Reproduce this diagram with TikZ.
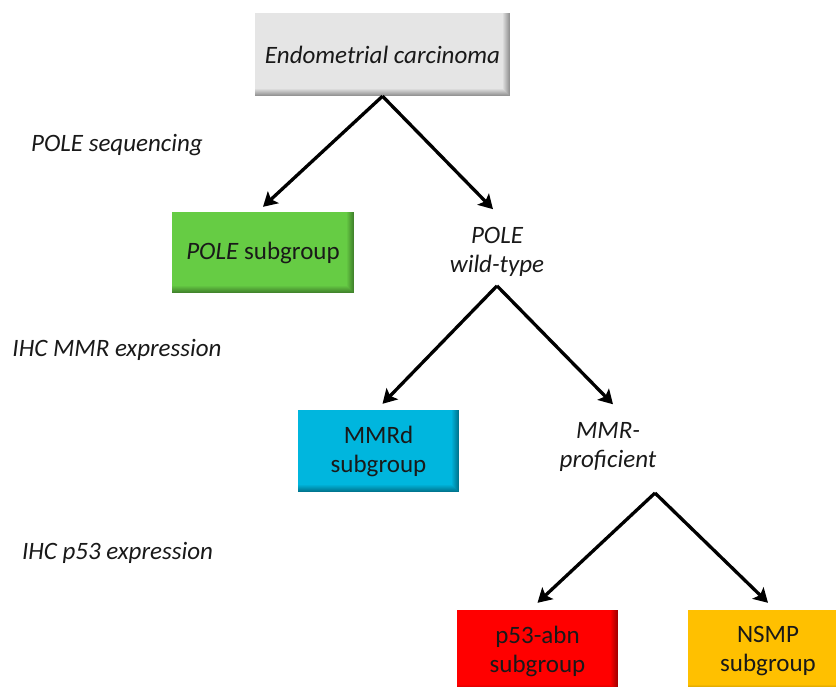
\documentclass[tikz,border=0pt]{standalone}
\usepackage{fontspec}
\setmainfont{Carlito}
\usetikzlibrary{arrows.meta,positioning}

\definecolor{boxgray}{RGB}{229,229,229}
\definecolor{polegreen}{RGB}{102,204,68}
\definecolor{mmrblue}{RGB}{0,182,222}
\definecolor{abnred}{RGB}{255,0,0}
\definecolor{nsmporange}{RGB}{255,192,0}
\definecolor{txt}{RGB}{25,25,25}

\begin{document}
\begin{tikzpicture}[x=1pt,y=-1pt,
    font=\fontsize{25}{29}\selectfont, text=txt,
    grp/.style={fill=#1, minimum width=161pt, minimum height=82pt, align=center, inner sep=0pt,
      path picture={
        \foreach \i [evaluate=\i as \pct using {int(100-5*\i)}] in {0,...,7}{
          \fill[#1!\pct!black]
            ([xshift={(\i-8)*1pt}]path picture bounding box.north east) rectangle (path picture bounding box.south east);
          \fill[#1!\pct!black]
            ([yshift={(8-\i)*1pt}]path picture bounding box.south west) rectangle (path picture bounding box.south east);
        }
      }},
    lbl/.style={font=\fontsize{25}{29}\selectfont\itshape, align=center, inner sep=2pt},
    arr/.style={-{Stealth[length=14pt,width=16pt,inset=3pt]}, line width=3.3pt}
  ]
  \useasboundingbox (0,0) rectangle (836,686);
  \clip (0,0) rectangle (836,686);

  % steps
  \node[lbl] (seq) at (117,145) {POLE sequencing};
  \node[lbl] (ihcmmr) at (117,350) {IHC MMR expression};
  \node[lbl] (ihcp53) at (117.5,553) {IHC p53 expression};

  % tree
  \node[grp=boxgray, minimum width=255pt, minimum height=83pt, font=\fontsize{25}{29}\selectfont\itshape] (ec) at (382.5,54.5) {Endometrial carcinoma};
  \node[grp=polegreen, minimum width=182pt, minimum height=81pt] (pole) at (263,252.5) {\textit{POLE} subgroup};
  \node[lbl] (polewt) at (497,252) {POLE\\wild-type};
  \node[grp=mmrblue] (mmrd) at (378.5,451) {MMRd\\subgroup};
  \node[lbl] (mmrp) at (608,447) {MMR-\\proficient};
  \node[grp=abnred] (p53) at (537.5,651) {p53-abn\\subgroup};
  \node[grp=nsmporange, minimum width=160pt] (nsmp) at (768,651) {NSMP\\subgroup};
  \coordinate (fork) at (655,493);

  \path[arr]
    (ec.south) edge ([yshift=5pt]pole.north)
    (ec.south) edge ([xshift=-4pt,yshift=16pt]polewt.north)
    ([yshift=-7pt]polewt.south) edge ([xshift=4pt,yshift=6pt]mmrd.north)
    ([yshift=-7pt]polewt.south) edge ([xshift=5pt,yshift=16pt]mmrp.north)
    (fork) edge ([yshift=7pt]p53.north)
    (fork) edge ([yshift=7pt]nsmp.north);
\end{tikzpicture}
\end{document}
